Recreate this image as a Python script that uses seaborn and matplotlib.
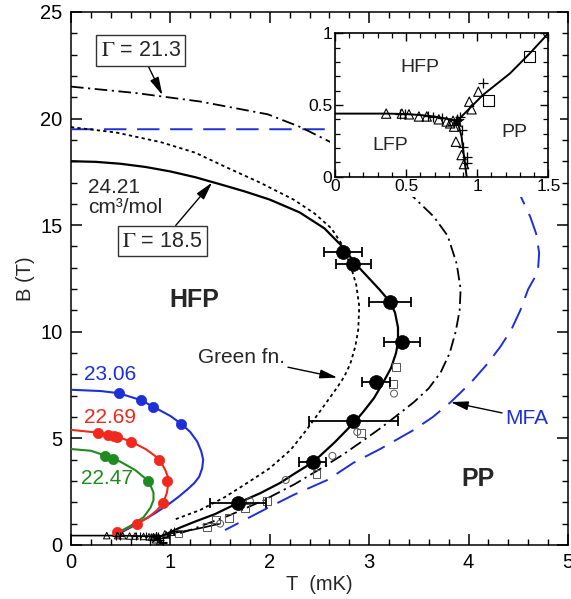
import matplotlib
matplotlib.use("Agg")
import matplotlib.pyplot as plt
from matplotlib.patches import Rectangle
from matplotlib.ticker import MultipleLocator, FuncFormatter
import seaborn as sns
import pandas as pd

# ---------------- data ----------------
# Phase boundary B(T) for 24.21 cm^3/mol (Gamma = 18.5), solid
solid_T = [0.00, 0.25, 0.50, 0.75, 1.00, 1.25, 1.50, 1.75, 2.00, 2.30, 2.55, 2.74, 2.86,
           2.98, 3.10, 3.21, 3.26, 3.29, 3.29, 3.27, 3.22, 3.15, 3.05, 2.95, 2.86, 2.65,
           2.44, 2.25, 2.10, 1.90, 1.68, 1.45, 1.25, 1.10, 0.93]
solid_B = [18.0, 17.97, 17.88, 17.73, 17.52, 17.25, 16.92, 16.58, 16.2, 15.6, 14.85,
           13.95, 13.2, 12.6, 12.0, 11.4, 10.9, 10.2, 9.5, 9.0, 8.3, 7.7, 6.9, 6.3, 5.8,
           4.8, 3.9, 3.35, 2.9, 2.42, 1.97, 1.45, 1.1, 0.82, 0.45]

# Green function result (dotted)
green_T = [0.00, 0.45, 0.90, 1.25, 1.57, 1.90, 2.24, 2.45, 2.62, 2.74, 2.82, 2.87, 2.90,
           2.89, 2.86, 2.81, 2.75, 2.68, 2.51, 2.37, 2.21, 2.00, 1.77, 1.55, 1.30, 1.03]
green_B = [19.6, 19.35, 18.9, 18.4, 17.7, 17.0, 16.2, 15.55, 14.85, 14.0, 13.0, 12.2,
           11.2, 10.1, 9.3, 8.5, 7.9, 7.4, 6.3, 5.4, 4.46, 3.6, 2.9, 2.25, 1.64, 1.17]

# Gamma = 21.3 (dash-dot)
g21_T = [0.00, 0.65, 1.30, 1.98, 2.31, 2.61, 2.90, 3.20, 3.45, 3.65, 3.79, 3.88, 3.92,
         3.91, 3.87, 3.81, 3.72, 3.60, 3.45, 3.30, 3.12, 2.94, 2.74, 2.54, 2.25, 1.94,
         1.60, 1.20, 0.92]
g21_B = [21.5, 21.2, 20.8, 20.2, 19.6, 18.9, 18.1, 17.3, 16.3, 15.4, 14.5, 13.2, 12.0,
         11.0, 10.0, 9.0, 8.1, 7.35, 6.7, 6.15, 5.5, 4.9, 4.25, 3.66, 2.85, 2.1,
         1.4, 0.7, 0.3]

# Mean-field approximation (blue dashed)
mfa_T = [0.00, 1.00, 2.00, 3.00, 3.50, 3.90, 4.20, 4.40, 4.53, 4.62, 4.68, 4.71, 4.70,
         4.66, 4.60, 4.52, 4.43, 4.32, 4.19, 4.02, 3.82, 3.64, 3.45, 3.28, 3.11, 2.84,
         2.58, 2.24, 1.98, 1.55]
mfa_B = [19.5, 19.5, 19.5, 19.5, 19.45, 19.1, 18.4, 17.4, 16.3, 15.4, 14.6, 13.7, 13.0,
         12.5, 12.0, 11.0, 10.1, 9.3, 8.5, 7.6, 6.7, 6.0, 5.4, 4.95, 4.5, 3.85,
         3.05, 2.35, 1.74, 0.7]

# Lower-density curves with their data points
c2306_T = [0.00, 0.30, 0.48, 0.70, 0.83, 1.00, 1.11, 1.20, 1.27, 1.31, 1.33, 1.32, 1.29,
           1.24, 1.17, 1.08, 1.00, 0.85, 0.73, 0.60, 0.47]
c2306_B = [7.28, 7.22, 7.12, 6.8, 6.48, 6.05, 5.68, 5.3, 4.85, 4.4, 4.0, 3.6, 3.2,
           2.9, 2.6, 2.25, 1.97, 1.5, 1.17, 0.82, 0.5]
p2306_T = [0.48, 0.70, 0.83, 1.11]
p2306_B = [7.14, 6.80, 6.46, 5.68]

c2269_T = [0.00, 0.27, 0.45, 0.60, 0.75, 0.84, 0.91, 0.95, 0.975, 0.98, 0.965, 0.93,
           0.87, 0.78, 0.66, 0.55, 0.46]
c2269_B = [5.4, 5.27, 5.1, 4.86, 4.5, 4.2, 3.85, 3.5, 3.2, 2.9, 2.45, 2.0,
           1.65, 1.3, 0.99, 0.75, 0.55]
p2269_T = [0.27, 0.37, 0.43, 0.46, 0.60, 0.89, 0.97, 0.93, 0.66, 0.46]
p2269_B = [5.25, 5.16, 5.12, 5.06, 4.84, 3.99, 3.00, 1.96, 0.99, 0.60]

c2247_T = [0.00, 0.20, 0.34, 0.50, 0.65, 0.74, 0.80, 0.83, 0.83, 0.80, 0.73, 0.60, 0.46]
c2247_B = [4.5, 4.42, 4.2, 3.9, 3.5, 3.15, 2.8, 2.45, 2.1, 1.75, 1.3, 0.9, 0.55]
p2247_T = [0.34, 0.42, 0.77]
p2247_B = [4.17, 4.03, 3.00]

# Measured transition points with temperature error bars
dot_T = [2.74, 2.84, 3.21, 3.33, 3.07, 2.84, 2.43, 1.68]
dot_B = [13.75, 13.2, 11.4, 9.53, 7.65, 5.82, 3.9, 1.97]
dot_dT = [0.19, 0.175, 0.21, 0.185, 0.14, 0.45, 0.135, 0.28]

# Other measurements (open symbols)
sq_T = [3.27, 3.24, 2.92, 2.47, 1.97, 1.75, 1.59, 1.46, 1.37, 1.08]
sq_B = [8.36, 7.55, 5.26, 3.33, 2.07, 1.74, 1.27, 1.20, 0.84, 0.53]
ci_T = [3.25, 2.88, 2.63, 2.16, 1.80, 1.50]
ci_B = [7.10, 5.30, 4.18, 3.05, 2.06, 1.00]

# Low-field phase diagram (LFP / HFP / PP)
lfp_hfp_T = [0.00, 0.36, 0.50, 0.60, 0.70, 0.78, 0.86]
lfp_hfp_B = [0.44, 0.44, 0.437, 0.43, 0.42, 0.405, 0.39]
hfp_pp_T = [0.86, 1.04, 1.23, 1.37, 1.50]
hfp_pp_B = [0.39, 0.57, 0.72, 0.86, 1.00]
lfp_pp_T = [0.86, 0.89, 0.91, 0.926]
lfp_pp_B = [0.39, 0.28, 0.116, 0.00]

tri_T = [0.36, 0.47, 0.52, 0.59, 0.645, 0.73, 0.785, 0.83, 0.944, 0.96, 1.008,
         0.81, 0.837, 0.85, 0.89, 0.907]
tri_B = [0.44, 0.44, 0.435, 0.42, 0.42, 0.40, 0.385, 0.39, 0.523, 0.47, 0.593,
         0.372, 0.349, 0.244, 0.151, 0.088]
plus_T = [0.457, 0.49, 0.656, 0.69, 0.75, 0.88, 1.04, 0.89, 0.90, 0.926, 0.926]
plus_B = [0.437, 0.437, 0.423, 0.419, 0.407, 0.419, 0.65, 0.326, 0.21, 0.14, 0.093]
star_T = [0.86]
star_B = [0.39]

# ---------------- style ----------------
sns.set_theme(style="ticks")
plt.rcParams["font.family"] = ["Liberation Sans", "DejaVu Sans"]
plt.rcParams["mathtext.fontset"] = "stix"
plt.rcParams["axes.linewidth"] = 1.1

BLUE = "#1f2fd8"
RED = "#f0281e"
GREEN = "#1f8a1f"

fig = plt.figure(figsize=(5.71, 5.99), dpi=100)
ax = fig.add_axes([0.1243, 0.0902, 0.8704, 0.8898])


def curve(a, T, B, color, lw=1.5, dash=None, z=3):
    df = pd.DataFrame({"T": T, "B": B})
    sns.lineplot(data=df, x="T", y="B", sort=False, estimator=None, color=color,
                 lw=lw, ax=a, zorder=z)
    line = a.lines[-1]
    line.set_solid_joinstyle("round")
    line.set_dash_joinstyle("round")
    if dash is not None:
        line.set_dashes(dash)
    return line


def points(a, T, B, marker, s, fc, ec, lw=0.8, z=5):
    df = pd.DataFrame({"T": T, "B": B})
    sns.scatterplot(data=df, x="T", y="B", marker=marker, s=s, facecolor=fc,
                    edgecolor=ec, linewidth=lw, ax=a, zorder=z)


# colored low-density curves
curve(ax, c2306_T, c2306_B, BLUE)
curve(ax, c2269_T, c2269_B, RED)
curve(ax, c2247_T, c2247_B, GREEN)
points(ax, p2306_T, p2306_B, "o", 55, BLUE, BLUE, 0.5)
points(ax, p2269_T, p2269_B, "o", 55, RED, RED, 0.5)
points(ax, p2247_T, p2247_B, "o", 55, GREEN, GREEN, 0.5)

# theory curves
curve(ax, mfa_T, mfa_B, BLUE, lw=1.4, dash=(11.5, 5.5))
curve(ax, g21_T, g21_B, "black", lw=1.3, dash=(7, 2.5, 1.2, 2.5))
curve(ax, green_T, green_B, "black", lw=1.3, dash=(1.8, 1.8))
curve(ax, solid_T, solid_B, "black", lw=1.6)

# low-field boundaries also in the main panel
for tt, bb in [(lfp_hfp_T, lfp_hfp_B), (hfp_pp_T, hfp_pp_B), (lfp_pp_T, lfp_pp_B)]:
    curve(ax, tt, bb, "black", lw=1.2)

points(ax, sq_T, sq_B, "s", 30, "none", "#555555", 0.7)
points(ax, ci_T, ci_B, "o", 25, "none", "#555555", 0.7)
points(ax, tri_T, tri_B, "^", 22, "none", "black", 0.7)
points(ax, plus_T, plus_B, "+", 30, "black", "black", 0.8)
points(ax, star_T, star_B, "*", 60, "black", "black", 0.5)

ax.errorbar(dot_T, dot_B, xerr=dot_dT, fmt="none", ecolor="black", elinewidth=1.3,
            capsize=3.5, capthick=1.3, zorder=6)
points(ax, dot_T, dot_B, "o", 100, "black", "black", 0.5, z=7)

ax.set_xlim(0, 5)
ax.set_ylim(0, 25)
ax.xaxis.set_major_locator(MultipleLocator(1))
ax.xaxis.set_minor_locator(MultipleLocator(0.2))
ax.yaxis.set_major_locator(MultipleLocator(5))
ax.yaxis.set_minor_locator(MultipleLocator(1))
ax.tick_params(which="both", direction="in", top=True, right=True, colors="black",
               labelsize=14.5)
ax.tick_params(which="major", length=8, width=1.1)
ax.tick_params(which="minor", length=4, width=1.0)
ax.tick_params(axis="x", pad=6)
ax.tick_params(axis="y", pad=6)
ax.set_xlabel("T  (mK)", fontsize=14.5, labelpad=2)
ax.set_ylabel("B (T)", fontsize=14.5, labelpad=4)
for sp in ax.spines.values():
    sp.set_color("black")

# text labels
ax.text(1.24, 11.5, "HFP", fontsize=18, fontweight="bold", ha="center", va="center")
ax.text(4.09, 3.1, "PP", fontsize=18, fontweight="bold", ha="center", va="center")
ax.text(0.17, 16.3, "24.21\ncm³/mol", fontsize=15, ha="left", va="center",
        linespacing=1.05)
ax.text(0.39, 8.0, "23.06", fontsize=15, color=BLUE, ha="center", va="center")
ax.text(0.39, 5.96, "22.69", fontsize=15, color=RED, ha="center", va="center")
ax.text(0.36, 3.1, "22.47", fontsize=15, color=GREEN, ha="center", va="center")

arrow = dict(arrowstyle="-|>,head_length=0.7,head_width=0.18", color="black", lw=1.0,
             shrinkA=0, shrinkB=0)
box = dict(boxstyle="square,pad=0.22", fc="white", ec="#333333", lw=1.0)
ax.annotate(r"$\Gamma$ = 21.3", xy=(0.92, 21.1), xytext=(0.70, 23.2), fontsize=15.5,
            ha="center", va="center", bbox=box, arrowprops=arrow, zorder=8)
ax.annotate(r"$\Gamma$ = 18.5", xy=(1.42, 17.0), xytext=(0.92, 14.25), fontsize=15.5,
            ha="center", va="center", bbox=box, arrowprops=arrow, zorder=8)
ax.annotate("Green fn.", xy=(2.68, 7.85), xytext=(2.15, 8.8), fontsize=15,
            ha="right", va="center", arrowprops=arrow, zorder=8)
ax.annotate("MFA", xy=(3.82, 6.7), xytext=(4.37, 5.95), fontsize=15, color=BLUE,
            ha="left", va="center", arrowprops=arrow, zorder=8)

# white backing behind the inset and its labels
ax.add_patch(Rectangle((330 / 571, 1 - 197 / 599), 230 / 571, 170 / 599,
                       transform=fig.transFigure, fc="white", ec="none",
                       zorder=20, clip_on=False))

# ---------------- inset ----------------
ins = fig.add_axes([0.5867, 0.705, 0.3736, 0.2394])
ins.set_facecolor("white")
for tt, bb in [(lfp_hfp_T, lfp_hfp_B), (hfp_pp_T, hfp_pp_B), (lfp_pp_T, lfp_pp_B)]:
    curve(ins, tt, bb, "black", lw=1.4)
points(ins, sq_T, sq_B, "s", 60, "none", "black", 0.8)
points(ins, ci_T, ci_B, "o", 45, "none", "black", 0.8)
points(ins, tri_T, tri_B, "^", 45, "none", "black", 0.8)
points(ins, plus_T, plus_B, "+", 60, "black", "black", 0.9)
points(ins, star_T, star_B, "*", 100, "black", "black", 0.5)
ins.set_xlim(0, 1.5)
ins.set_ylim(0, 1)
ins.xaxis.set_major_locator(MultipleLocator(0.5))
ins.xaxis.set_minor_locator(MultipleLocator(0.1))
ins.yaxis.set_major_locator(MultipleLocator(0.5))
ins.yaxis.set_minor_locator(MultipleLocator(0.1))
ins.xaxis.set_major_formatter(FuncFormatter(lambda v, p: f"{v:g}"))
ins.yaxis.set_major_formatter(FuncFormatter(lambda v, p: f"{v:g}"))
ins.tick_params(which="both", direction="in", top=True, right=True, colors="black",
                labelsize=12.5, pad=2)
ins.tick_params(which="major", length=6, width=1.0)
ins.tick_params(which="minor", length=3.5, width=0.9)
ins.set_xlabel("")
ins.set_ylabel("")
for sp in ins.spines.values():
    sp.set_color("black")
    sp.set_linewidth(1.2)
ins.text(0.60, 0.76, "HFP", fontsize=14, ha="center", va="center")
ins.text(0.39, 0.22, "LFP", fontsize=14, ha="center", va="center")
ins.text(1.26, 0.31, "PP", fontsize=14, ha="center", va="center")

fig.savefig("out.png", dpi=100)
